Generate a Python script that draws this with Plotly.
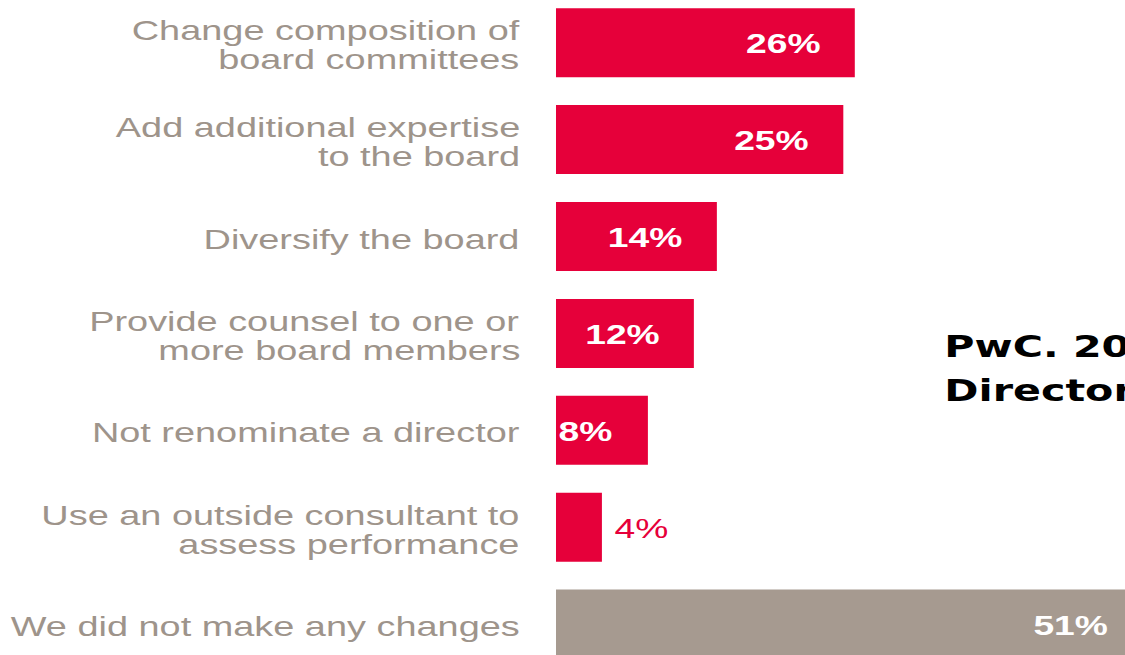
import plotly.graph_objects as go

# Survey responses: actions boards took after their self-assessment
categories = [
    "Change composition of<br>board committees",
    "Add additional expertise<br>to the board",
    "Diversify the board",
    "Provide counsel to one or<br>more board members",
    "Not renominate a director",
    "Use an outside consultant to<br>assess performance",
    "We did not make any changes",
]
values = [26, 25, 14, 12, 8, 4, 51]
value_labels = [f"{v}%" for v in values]
source_lines = ["PwC. 2016 Annual Corporate", "Directors Survey"]

# Styling
RED = "#E6003A"
TAUPE = "#A69A90"
LABEL_GREY = "#9E948B"
SANS = "Liberation Sans, Arial, Helvetica, sans-serif"
BOLD_SANS = "DejaVu Sans, Verdana, sans-serif"
bar_colors = [TAUPE if lab.startswith("We did not") else RED for lab in categories]

STRETCH = 1.33          # the slide is shown stretched horizontally
FIG_W, FIG_H = 902, 655
LEFT = 418
LINE_GAP = 29

fig = go.Figure()
fig.add_trace(go.Bar(
    x=values,
    y=categories,
    orientation="h",
    marker=dict(color=bar_colors, line=dict(width=0)),
    width=0.712,
    hoverinfo="skip",
))

annotations = []
# Category labels, one annotation per line so the leading stays tight
for cat in categories:
    lines = cat.split("<br>")
    n = len(lines)
    for j, line in enumerate(lines):
        offset = (j - (n - 1) / 2) * LINE_GAP + 2
        annotations.append(dict(
            x=0, y=cat, xref="x", yref="y",
            text=line, showarrow=False,
            xanchor="right", yanchor="middle",
            xshift=-25, yshift=-offset,
            font=dict(family=SANS, size=28.5, color=LABEL_GREY),
        ))

# Value labels: inside the bar end, or just outside when the bar is short
for cat, v, lab in zip(categories, values, value_labels):
    inside = v >= 6
    annotations.append(dict(
        x=v, y=cat, xref="x", yref="y",
        text=lab, showarrow=False,
        xanchor="right" if inside else "left", yanchor="middle",
        xshift=-24 if inside else 7, yshift=-1,
        font=dict(family=SANS, size=28,
                  color="white" if inside else RED,
                  weight="bold" if inside else "normal"),
    ))

# Source caption (x in plot-area fraction)
for k, line in enumerate(source_lines):
    annotations.append(dict(
        x=0.6, y=0.4725 - k * 0.0672, xref="paper", yref="paper",
        text=line, showarrow=False,
        xanchor="left", yanchor="middle",
        font=dict(family=BOLD_SANS, size=31, color="black", weight="bold"),
    ))

fig.update_layout(
    width=FIG_W, height=FIG_H,
    margin=dict(l=LEFT, r=0, t=0, b=0, pad=0),
    paper_bgcolor="white", plot_bgcolor="white",
    showlegend=False,
    xaxis=dict(range=[0, 56], visible=False, fixedrange=True),
    yaxis=dict(type="category", categoryorder="array", categoryarray=categories,
               range=[6.319, -0.4407], visible=False, fixedrange=True),
    annotations=annotations,
)

post = """
var gd = document.getElementById('{plot_id}');
document.documentElement.style.overflow = 'hidden';
document.body.style.margin = '0';
document.body.style.overflow = 'hidden';
gd.style.transformOrigin = '0 0';
gd.style.transform = 'scaleX(%s)';
""" % STRETCH

fig.write_html("out.html", config={"displayModeBar": False}, post_script=post)
